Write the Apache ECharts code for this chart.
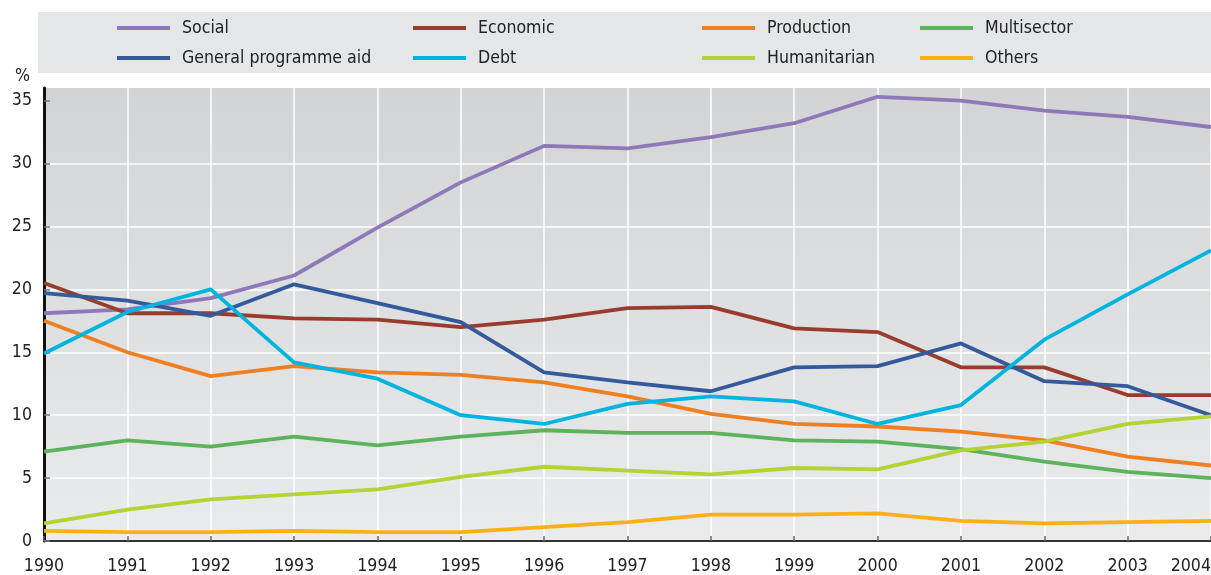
<!DOCTYPE html>
<html>
<head>
<meta charset="utf-8">
<script src="https://cdn.jsdelivr.net/npm/echarts@6/dist/echarts.min.js"></script>
<style>
  html, body { margin: 0; padding: 0; background: #fff; }
  #main { width: 1211px; height: 575px; }
</style>
</head>
<body>
<div id="main"></div>
<script>
const years = ['1990','1991','1992','1993','1994','1995','1996','1997','1998','1999','2000','2001','2002','2003','2004'];
const yTicks = [0, 5, 10, 15, 20, 25, 30, 35];

const social       = [18.1, 18.4, 19.3, 21.1, 24.9, 28.5, 31.4, 31.2, 32.1, 33.2, 35.3, 35.0, 34.2, 33.7, 32.9];
const economic     = [20.5, 18.1, 18.1, 17.7, 17.6, 17.0, 17.6, 18.5, 18.6, 16.9, 16.6, 13.8, 13.8, 11.6, 11.6];
const production   = [17.5, 15.0, 13.1, 13.9, 13.4, 13.2, 12.6, 11.5, 10.1, 9.3, 9.1, 8.7, 8.0, 6.7, 6.0];
const multisector  = [7.1, 8.0, 7.5, 8.3, 7.6, 8.3, 8.8, 8.6, 8.6, 8.0, 7.9, 7.3, 6.3, 5.5, 5.0];
const programmeAid = [19.7, 19.1, 17.9, 20.4, 18.9, 17.4, 13.4, 12.6, 11.9, 13.8, 13.9, 15.7, 12.7, 12.3, 10.0];
const debt         = [14.9, 18.2, 20.0, 14.2, 12.9, 10.0, 9.3, 10.9, 11.5, 11.1, 9.3, 10.8, 16.0, 19.6, 23.1];
const humanitarian = [1.4, 2.5, 3.3, 3.7, 4.1, 5.1, 5.9, 5.6, 5.3, 5.8, 5.7, 7.2, 7.9, 9.3, 9.9];
const others       = [0.8, 0.7, 0.7, 0.8, 0.7, 0.7, 1.1, 1.5, 2.1, 2.1, 2.2, 1.6, 1.4, 1.5, 1.6];

const FONT = '"DejaVu Sans Condensed", "Liberation Sans Narrow", sans-serif';
const FS = 17.6;

// nom, donnees, couleur
const seriesDefs = [
  ['Social', social, '#8e79b8'],
  ['Economic', economic, '#983c2e'],
  ['Production', production, '#f07f22'],
  ['Multisector', multisector, '#5cb25d'],
  ['General programme aid', programmeAid, '#345a9c'],
  ['Debt', debt, '#00b4e0'],
  ['Humanitarian', humanitarian, '#b5d334'],
  ['Others', others, '#fbb116']
];

const chart = echarts.init(document.getElementById('main'));

// une legende par colonne (2 lignes chacune)
const legendCols = [
  [117, ['Social', 'General programme aid']],
  [413, ['Economic', 'Debt']],
  [702, ['Production', 'Humanitarian']],
  [920, ['Multisector', 'Others']]
];

const legends = legendCols.map(([left, names]) => ({
  orient: 'vertical',
  left: left,
  top: 19,
  padding: 0,
  itemWidth: 53,
  itemHeight: 4,
  itemGap: 12,
  icon: 'rect',
  data: names,
  selectedMode: false,
  textStyle: { fontFamily: FONT, fontSize: FS, color: '#222', padding: [0, 0, 0, 7] }
}));

const option = {
  animation: false,
  graphic: [{
    type: 'rect',
    shape: { x: 38, y: 12, width: 1180, height: 61 },
    style: { fill: '#e5e6e8' },
    z: -1
  }],
  legend: legends,
  grid: {
    left: 44, right: 0, top: 88, bottom: 34,
    outerBoundsMode: 'none',
    containLabel: false,
    show: true,
    borderWidth: 0,
    backgroundColor: new echarts.graphic.LinearGradient(0, 0, 0, 1, [
      { offset: 0, color: '#d2d3d5' },
      { offset: 1, color: '#eaebec' }
    ])
  },
  xAxis: {
    type: 'category',
    data: years,
    boundaryGap: false,
    axisLine: { lineStyle: { color: '#333', width: 2 } },
    axisTick: { inside: true, length: 5, lineStyle: { color: '#666', width: 1.5 } },
    axisLabel: { fontFamily: FONT, fontSize: FS, color: '#222', margin: 16, interval: 0, hideOverlap: false, alignMaxLabel: 'right' },
    splitLine: { show: true, lineStyle: { color: '#fff', width: 1.5 } }
  },
  yAxis: {
    type: 'value',
    min: 0,
    max: 36,
    interval: 5,
    name: '%',
    nameLocation: 'end',
    nameGap: 3,
    nameTextStyle: { fontFamily: FONT, fontSize: FS, color: '#222', align: 'right', padding: [0, 14, 0, 0] },
    axisLine: { show: true, lineStyle: { color: '#111', width: 3 } },
    axisTick: { show: true, inside: true, length: 6, lineStyle: { color: '#777', width: 1.5 }, customValues: yTicks },
    axisLabel: { fontFamily: FONT, fontSize: FS, color: '#222', margin: 12, customValues: yTicks },
    splitLine: { show: true, showMaxLine: false, lineStyle: { color: '#fff', width: 1.5 } }
  },
  series: seriesDefs.map(([name, data, color]) => ({
    name: name,
    type: 'line',
    data: data,
    symbol: 'none',
    lineStyle: { color: color, width: 3.8 },
    itemStyle: { color: color }
  }))
};

chart.setOption(option);
</script>
</body>
</html>
